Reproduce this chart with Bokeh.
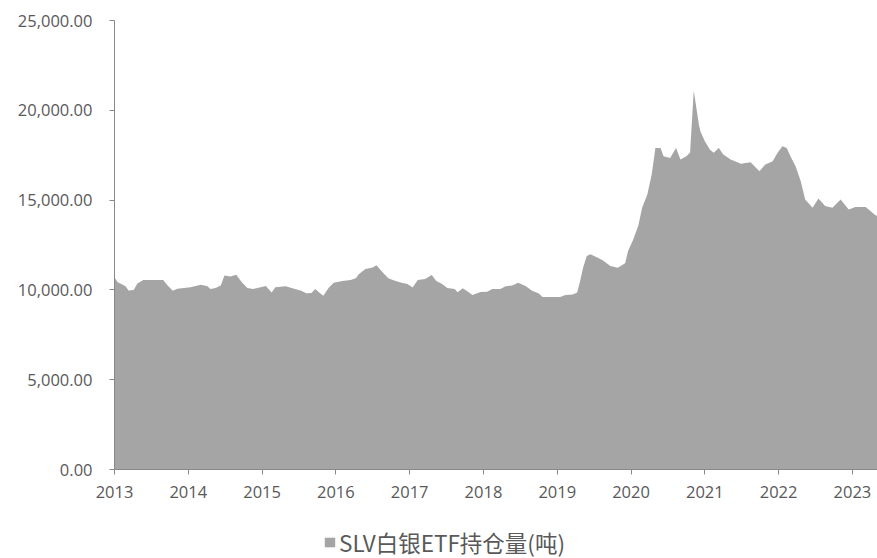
from bokeh.plotting import figure
from bokeh.models import (Range1d, FixedTicker, NumeralTickFormatter, Legend, LegendItem)
from bokeh.embed import file_html
from bokeh.resources import INLINE

# Time in decimal years and SLV silver ETF holdings (tonnes)
t_year = [2013.00, 2013.04, 2013.15, 2013.19, 2013.26, 2013.31, 2013.39, 2013.66, 2013.72, 2013.79,
          2013.85, 2014.03, 2014.17, 2014.26, 2014.30, 2014.37, 2014.44, 2014.49, 2014.57, 2014.65,
          2014.72, 2014.80, 2014.88, 2014.98, 2015.05, 2015.13, 2015.18, 2015.32, 2015.40, 2015.53,
          2015.60, 2015.67, 2015.72, 2015.79, 2015.83, 2015.90, 2015.97, 2016.09, 2016.20, 2016.27,
          2016.31, 2016.40, 2016.50, 2016.55, 2016.63, 2016.71, 2016.81, 2016.89, 2016.97, 2017.04,
          2017.11, 2017.21, 2017.30, 2017.36, 2017.43, 2017.51, 2017.61, 2017.65, 2017.72, 2017.80,
          2017.85, 2017.96, 2018.05, 2018.12, 2018.23, 2018.30, 2018.39, 2018.47, 2018.57, 2018.66,
          2018.75, 2018.80, 2019.04, 2019.11, 2019.21, 2019.27, 2019.31, 2019.35, 2019.40, 2019.45,
          2019.52, 2019.61, 2019.72, 2019.82, 2019.92, 2019.96, 2020.03, 2020.10, 2020.15, 2020.22,
          2020.28, 2020.33, 2020.40, 2020.44, 2020.53, 2020.61, 2020.67, 2020.75, 2020.80, 2020.85,
          2020.89, 2020.92, 2020.94, 2021.00, 2021.07, 2021.12, 2021.19, 2021.25, 2021.35, 2021.49,
          2021.62, 2021.74, 2021.82, 2021.92, 2021.98, 2022.05, 2022.11, 2022.16, 2022.23, 2022.30,
          2022.36, 2022.46, 2022.54, 2022.63, 2022.73, 2022.84, 2022.95, 2023.04, 2023.18, 2023.30,
          2023.34]
holdings = [10700, 10440, 10200, 9970, 10000, 10350, 10550, 10550, 10250, 9950,
            10070, 10150, 10280, 10200, 10050, 10100, 10250, 10800, 10750, 10850,
            10450, 10100, 10050, 10150, 10220, 9850, 10150, 10200, 10100, 9950,
            9820, 9830, 10050, 9800, 9670, 10100, 10400, 10500, 10550, 10650,
            10870, 11170, 11250, 11370, 11000, 10650, 10500, 10400, 10330, 10130,
            10550, 10600, 10830, 10500, 10350, 10100, 10050, 9870, 10090, 9870,
            9720, 9890, 9900, 10050, 10050, 10200, 10250, 10400, 10220, 9950,
            9800, 9600, 9610, 9720, 9750, 9850, 10500, 11240, 11890, 11980,
            11850, 11670, 11330, 11240, 11480, 12170, 12800, 13600, 14570, 15300,
            16430, 17900, 17900, 17440, 17350, 17900, 17260, 17440, 17650, 21100,
            20000, 19200, 18830, 18280, 17800, 17630, 17900, 17540, 17260, 17020,
            17110, 16610, 16980, 17170, 17600, 18000, 17900, 17440, 16890, 16050,
            15040, 14570, 15090, 14670, 14570, 15040, 14480, 14610, 14610, 14200,
            14100]

x_ticks = [2013, 2014, 2015, 2016, 2017, 2018, 2019, 2020, 2021, 2022, 2023]
y_ticks = [0, 5000, 10000, 15000, 20000, 25000]
x_start, x_end = 2013, 2023.34
y_max = 25000
series_name = "SLV白银ETF持仓量(吨)"

FONT = "Open Sans"
TXT = "#595959"
AXC = "#898989"
FILL = "#A5A5A5"

W, H = 877, 558
TOP, LEFT = 20, 114   # pixel of y_max row / of x_start column
AXIS_Y = 469          # pixel row of the value 0
# The frame fills the whole canvas; both axes sit at fixed data locations
years_per_px = (x_end - x_start) / (W - LEFT)
x_low = x_start - LEFT * years_per_px
units_per_px = y_max / (AXIS_Y - TOP)
y_low = -(H - AXIS_Y) * units_per_px
y_high = y_max + TOP * units_per_px

p = figure(width=W, height=H, output_backend="svg", toolbar_location=None,
           x_range=Range1d(x_low, x_end), y_range=Range1d(y_low, y_high),
           min_border_left=0, min_border_right=0, min_border_top=0, min_border_bottom=0)
p.outline_line_color = None
p.xgrid.visible = False
p.ygrid.visible = False
p.background_fill_color = "white"
p.border_fill_color = "white"

r = p.varea(x=t_year, y1=0, y2=holdings, fill_color=FILL, fill_alpha=1.0)

p.yaxis.ticker = FixedTicker(ticks=y_ticks)
p.yaxis.formatter = NumeralTickFormatter(format="0,0.00")
p.yaxis.bounds = (0, y_max)
p.yaxis.fixed_location = x_start
p.xaxis.ticker = FixedTicker(ticks=x_ticks)
p.xaxis.formatter = NumeralTickFormatter(format="0")
p.xaxis.bounds = (x_start, x_end)
p.xaxis.fixed_location = 0
for ax in (p.xaxis, p.yaxis):
    ax.axis_line_color = AXC
    ax.axis_line_width = 1
    ax.major_tick_line_color = AXC
    ax.major_tick_out = 5
    ax.major_tick_in = 0
    ax.minor_tick_line_color = None
    ax.major_label_text_font = FONT
    ax.major_label_text_font_size = "16.5px"
    ax.major_label_text_color = TXT
p.yaxis.major_label_standoff = 17
p.xaxis.major_label_standoff = 11

legend = Legend(items=[LegendItem(label=series_name, renderers=[r])],
                location=(323, 0), orientation="horizontal",
                label_text_font="Noto Sans CJK SC", label_text_font_size="22.5px",
                label_text_color=TXT, glyph_width=13, glyph_height=12,
                label_standoff=3, padding=0, margin=0, spacing=0,
                border_line_color=None, background_fill_alpha=0)
p.add_layout(legend, "center")

open("out.html", "w").write(file_html(p, INLINE))
